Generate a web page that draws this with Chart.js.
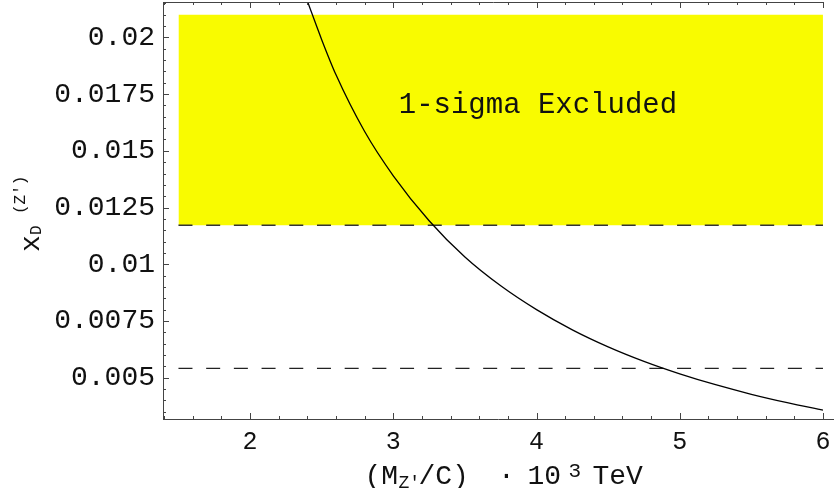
<!DOCTYPE html>
<html>
<head>
<meta charset="utf-8">
<script src="https://cdn.jsdelivr.net/npm/chart.js@4.4.0/dist/chart.umd.min.js"></script>
<style>
  html, body { margin: 0; padding: 0; background: #fff; }
  #wrap { width: 834px; height: 488px; }
</style>
</head>
<body>
<div id="wrap"><canvas id="xdChart"></canvas></div>
<script>
// curve (x in units of 10^3 TeV)
const massX = [2.4, 2.5, 2.6, 2.8, 3.0, 3.25, 3.5, 3.75, 4.0, 4.25, 4.5, 4.75, 5.0, 5.25, 5.5, 5.75, 6.0];
const xdValues = [0.0216, 0.0199, 0.01835, 0.01585, 0.0139, 0.01192, 0.01032, 0.00905, 0.0080, 0.00711, 0.00636, 0.00572, 0.00517, 0.00469, 0.00427, 0.0039, 0.00357];

// dashed limits and the excluded band
const limitX = [1.5, 6.0];
const limitUpper = 0.01172;
const limitLower = 0.00541;
const bandTop = 0.0210;

const xTicks = [2, 3, 4, 5, 6];
const xTickLabels = ['2', '3', '4', '5', '6'];
const yTicks = [0.005, 0.0075, 0.01, 0.0125, 0.015, 0.0175, 0.02];
const yTickLabels = ['0.005', '0.0075', '0.01', '0.0125', '0.015', '0.0175', '0.02'];

const MONO = '"Liberation Mono", "Courier New", monospace';

// axes, tick marks, titles and the band label
const frame = {
    id: 'frame',
    afterDraw(chart) {
        const { ctx, chartArea: a, scales: { x, y } } = chart;
        ctx.save();
        ctx.strokeStyle = '#444';
        ctx.lineWidth = 1;
        ctx.beginPath();
        ctx.moveTo(a.left + 0.5, a.top); ctx.lineTo(a.left + 0.5, a.bottom + 1);
        ctx.moveTo(a.left, a.bottom + 0.5); ctx.lineTo(a.right, a.bottom + 0.5);
        ctx.moveTo(a.left, a.top + 0.5); ctx.lineTo(x.getPixelForValue(6) + 1, a.top + 0.5);
        for (let i = 7; i <= 30; i++) {
            const px = Math.round(x.getPixelForValue(i / 5)) + 0.5;
            const len = i % 5 === 0 ? 6 : 3;
            ctx.moveTo(px, a.bottom); ctx.lineTo(px, a.bottom - len);
            ctx.moveTo(px, a.top); ctx.lineTo(px, a.top + len);
        }
        for (let i = 7; i <= 43; i++) {
            const py = Math.round(y.getPixelForValue(i * 0.0005)) + 0.5;
            const len = i % 5 === 0 ? 6 : 3;
            ctx.moveTo(a.left, py); ctx.lineTo(a.left + len, py);
        }
        ctx.stroke();

        ctx.fillStyle = '#111';
        ctx.textBaseline = 'alphabetic';

        // band label
        ctx.textAlign = 'center';
        ctx.font = '29px ' + MONO;
        ctx.fillText('1-sigma Excluded', x.getPixelForValue(4.01), y.getPixelForValue(0.01667));

        // x title: (M_Z'/C) · 10^3 TeV
        const s = (a.left + a.right) / 2 - 134;
        const base = a.bottom + 64.5;
        ctx.textAlign = 'left';
        ctx.font = '28px ' + MONO;
        ctx.fillText('(M', s, base);
        ctx.fillText('/C)', s + 54, base);
        ctx.fillText('10', s + 163, base);
        ctx.fillText('TeV', s + 228, base);
        ctx.textAlign = 'center';
        ctx.fillText('\u00b7', s + 142, base);
        ctx.textAlign = 'left';
        ctx.font = '18px ' + MONO;
        ctx.fillText("Z'", s + 34, base + 4.5);
        ctx.font = '21px ' + MONO;
        ctx.fillText('3', s + 204, base - 6.5);

        // y title: x_D^(Z'), rotated
        ctx.translate(39, 252);
        ctx.rotate(-Math.PI / 2);
        ctx.font = '28px ' + MONO;
        ctx.fillText('x', 0, 0);
        ctx.font = '16px ' + MONO;
        ctx.fillText('D', 17, 2);
        ctx.fillText("(Z')", 38, -14);
        ctx.restore();
    }
};

const pts = (xs, ys) => xs.map((v, i) => ({ x: v, y: ys[i] }));

new Chart(document.getElementById('xdChart').getContext('2d'), {
    type: 'line',
    data: {
        datasets: [{
            label: 'x_D',
            data: pts(massX, xdValues),
            borderColor: '#000',
            borderWidth: 1.3,
            pointRadius: 0,
            cubicInterpolationMode: 'monotone',
            fill: false,
            order: 1
        }, {
            label: 'upper limit',
            data: pts(limitX, [limitUpper, limitUpper]),
            borderColor: '#333',
            borderWidth: 1.6,
            borderDash: [14, 13.7],
            pointRadius: 0,
            fill: false,
            order: 2
        }, {
            label: 'lower limit',
            data: pts(limitX, [limitLower, limitLower]),
            borderColor: '#222',
            borderWidth: 1.2,
            borderDash: [14, 13.7],
            pointRadius: 0,
            fill: false,
            order: 2
        }, {
            label: 'excluded',
            data: pts(limitX, [bandTop, bandTop]),
            borderWidth: 0,
            pointRadius: 0,
            backgroundColor: '#f9fb00',
            fill: { value: limitUpper },
            order: 3
        }]
    },
    options: {
        responsive: true,
        maintainAspectRatio: false,
        animation: false,
        layout: { padding: { top: 2, left: 0, right: 0, bottom: 0 } },
        plugins: { legend: { display: false }, tooltip: { enabled: false } },
        scales: {
            x: {
                type: 'linear',
                min: 1.392,
                max: 6.077,
                grid: { display: false, drawTicks: false },
                border: { display: false },
                afterBuildTicks: (sc) => { sc.ticks = xTicks.map(v => ({ value: v })); },
                afterFit: (sc) => { sc.height = 69; sc.paddingLeft = 0; sc.paddingRight = 0; },
                ticks: {
                    padding: 8,
                    maxRotation: 0,
                    color: '#111',
                    font: { family: MONO, size: 25 },
                    callback: (v, i) => xTickLabels[i]
                }
            },
            y: {
                type: 'linear',
                min: 0.00318,
                max: 0.02156,
                grid: { display: false, drawTicks: false },
                border: { display: false },
                afterBuildTicks: (sc) => { sc.ticks = yTicks.map(v => ({ value: v })); },
                afterFit: (sc) => { sc.width = 163; sc.paddingTop = 0; sc.paddingBottom = 0; },
                ticks: {
                    padding: 8,
                    color: '#111',
                    font: { family: MONO, size: 28 },
                    callback: (v, i) => yTickLabels[i]
                }
            }
        }
    },
    plugins: [frame]
});
</script>
</body>
</html>
